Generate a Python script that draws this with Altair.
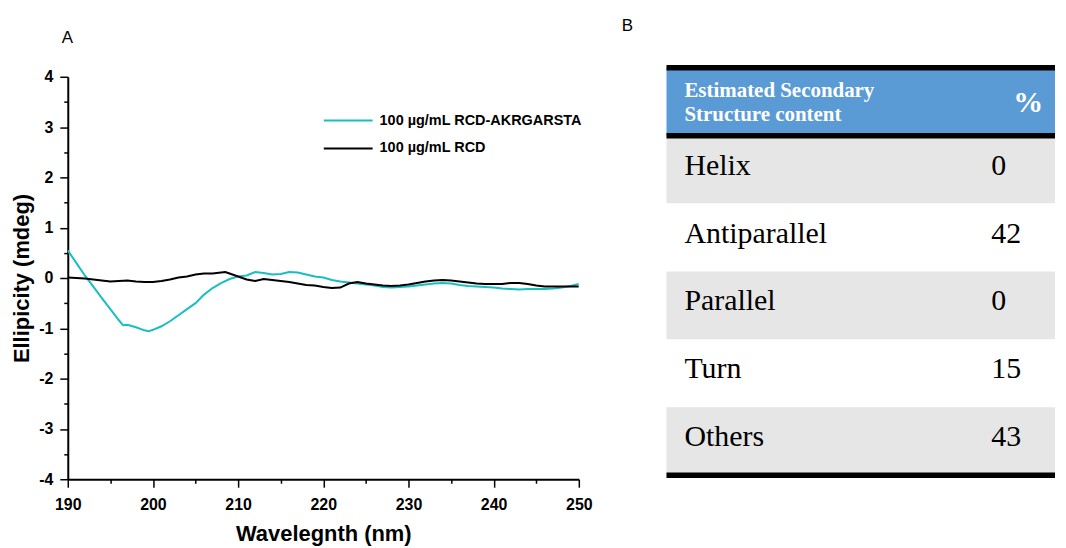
import altair as alt
import pandas as pd

# ---------------- data ----------------
series_names = ["100 µg/mL RCD-AKRGARSTA", "100 µg/mL RCD"]
series_colors = ["#19BFC0", "#000000"]

wl_cyan = [190, 191, 192, 193, 194, 195, 196, 196.5, 197, 198, 199, 199.5, 200, 201, 202, 203, 204, 205,
           206, 207, 208, 209, 210, 211, 212, 213, 214, 215, 216, 217, 218, 219, 220, 221, 222, 223, 224,
           225, 226, 227, 228, 229, 230, 231, 232, 233, 234, 235, 236, 237, 238, 239, 240, 241, 242, 243,
           244, 245, 246, 247, 248, 249, 250]
val_cyan = [0.55, 0.30, 0.05, -0.17, -0.40, -0.62, -0.84, -0.94, -0.93, -0.98, -1.04, -1.06, -1.03, -0.96,
            -0.86, -0.74, -0.62, -0.50, -0.33, -0.20, -0.10, -0.02, 0.03, 0.05, 0.12, 0.10, 0.07, 0.08, 0.12,
            0.11, 0.07, 0.03, 0.01, -0.04, -0.07, -0.09, -0.11, -0.13, -0.15, -0.18, -0.19, -0.18, -0.17,
            -0.15, -0.13, -0.11, -0.10, -0.11, -0.14, -0.16, -0.17, -0.18, -0.19, -0.21, -0.22, -0.23, -0.22,
            -0.22, -0.22, -0.21, -0.19, -0.16, -0.12]

wl_black = [190, 191, 192, 193, 194, 195, 196, 197, 198, 199, 200, 201, 202, 203, 204, 205, 206, 207, 208,
            208.5, 209, 210, 211, 212, 213, 214, 215, 216, 217, 218, 219, 220, 221, 222, 223, 224, 225, 226,
            227, 228, 229, 230, 231, 232, 233, 234, 235, 236, 237, 238, 239, 240, 241, 242, 243, 244, 245,
            246, 247, 248, 249, 250]
val_black = [0.01, 0.00, -0.01, -0.03, -0.05, -0.07, -0.06, -0.05, -0.07, -0.08, -0.08, -0.06, -0.03, 0.01,
             0.03, 0.07, 0.09, 0.09, 0.11, 0.12, 0.09, 0.03, -0.03, -0.06, -0.02, -0.04, -0.06, -0.08, -0.11,
             -0.14, -0.15, -0.18, -0.20, -0.19, -0.11, -0.08, -0.11, -0.13, -0.15, -0.16, -0.15, -0.13, -0.10,
             -0.07, -0.05, -0.04, -0.05, -0.07, -0.09, -0.11, -0.12, -0.12, -0.12, -0.10, -0.10, -0.12, -0.15,
             -0.17, -0.17, -0.17, -0.17, -0.17]

x_ticks = list(range(190, 251, 5))
y_ticks = [-4 + 0.5 * i for i in range(17)]

categories = ["Helix", "Antiparallel", "Parallel", "Turn", "Others"]
percents = [0, 42, 0, 15, 43]
header_left = "Estimated Secondary\nStructure content"
header_right = "%"

# ---------------- tables for the library ----------------
df_lines = pd.concat([
    pd.DataFrame({"wl": wl_cyan, "val": val_cyan, "series": series_names[0]}),
    pd.DataFrame({"wl": wl_black, "val": val_black, "series": series_names[1]}),
], ignore_index=True)

n = len(categories)
df_rows = pd.DataFrame({
    "top": [i + 1 for i in range(n)],
    "bot": [i + 2 for i in range(n)],
    "mid": [i + 1.5 for i in range(n)],
    "name": categories,
    "pct": [str(p) for p in percents],
    "idx": list(range(n)),
})
df_head = pd.DataFrame({"top": [0], "bot": [1], "mid": [0.5], "left": [header_left], "right": [header_right]})
df_borders = pd.DataFrame({"pos": [0, 1, n + 1]})

SANS = "Liberation Sans"
SERIF = "Liberation Serif"

# ---------------- panel A ----------------
panel_a = alt.Chart(df_lines).mark_line(strokeWidth=2, clip=True).encode(
    x=alt.X("wl:Q",
            scale=alt.Scale(domain=[190, 250], nice=False, zero=False),
            axis=alt.Axis(values=x_ticks,
                          labelExpr="datum.value % 10 === 0 ? '' + datum.value : ''",
                          tickSize={"condition": {"test": "datum.value % 10 === 0", "value": 8}, "value": 4},
                          title="Wavelegnth (nm)")),
    y=alt.Y("val:Q",
            scale=alt.Scale(domain=[-4, 4], nice=False, zero=False),
            axis=alt.Axis(values=y_ticks,
                          labelExpr="datum.value % 1 === 0 ? '' + datum.value : ''",
                          tickSize={"condition": {"test": "datum.value % 1 === 0", "value": 8}, "value": 4},
                          title="Ellipicity (mdeg)")),
    color=alt.Color("series:N",
                    scale=alt.Scale(domain=series_names, range=series_colors),
                    legend=alt.Legend(title=None, orient="none", legendX=256, legendY=34,
                                      symbolType="stroke", symbolSize=2401, symbolStrokeWidth=2,
                                      labelFont=SANS, labelFontWeight="bold", labelFontSize=14.5,
                                      labelColor="black", labelOffset=6, clipHeight=20, rowPadding=8,
                                      padding=0, labelLimit=400)),
).properties(
    width=513, height=404,
    title=alt.TitleParams("A", anchor="start", frame="group", font=SANS, fontSize=17,
                          fontWeight="normal", color="black", dx=-6, offset=9, baseline="alphabetic"),
)

# ---------------- panel B (table) ----------------
yscale = alt.Scale(domain=[0, n + 1], range=[-9, 400])
xscale = alt.Scale(domain=[0, 1], range=[18, 326])

head_bg = alt.Chart(df_head).mark_rect(color="#5B9BD5").encode(
    y=alt.Y("top:Q", scale=yscale, axis=None), y2="bot:Q")

row_bg = alt.Chart(df_rows).mark_rect().encode(
    y=alt.Y("top:Q", scale=yscale, axis=None), y2="bot:Q",
    color=alt.condition("datum.idx % 2 === 0", alt.value("#E7E6E6"), alt.value("#FFFFFF")))

borders = alt.Chart(df_borders).mark_rule(color="black", strokeWidth=5.5).encode(
    y=alt.Y("pos:Q", scale=yscale, axis=None))

head_left = alt.Chart(df_head).mark_text(align="left", baseline="middle", font=SERIF, fontSize=21,
                                         fontWeight="bold", color="white", lineBreak="\n",
                                         lineHeight=24.5, dy=-11).encode(
    x=alt.X("datum_x:Q", scale=xscale, axis=None),
    y=alt.Y("mid:Q", scale=yscale, axis=None),
    text="left:N").transform_calculate(datum_x="0")

head_right = alt.Chart(df_head).mark_text(align="left", baseline="middle", font=SERIF, fontSize=30,
                                          fontWeight="bold", color="white", dx=22, dy=1).encode(
    x=alt.X("datum_x:Q", scale=xscale, axis=None),
    y=alt.Y("mid:Q", scale=yscale, axis=None),
    text="right:N").transform_calculate(datum_x="1")

names = alt.Chart(df_rows).mark_text(align="left", baseline="middle", font=SERIF, fontSize=30,
                                     color="black", dy=-4).encode(
    x=alt.X("datum_x:Q", scale=xscale, axis=None),
    y=alt.Y("mid:Q", scale=yscale, axis=None),
    text="name:N").transform_calculate(datum_x="0")

values = alt.Chart(df_rows).mark_text(align="left", baseline="middle", font=SERIF, fontSize=30,
                                      color="black", dy=-4).encode(
    x=alt.X("datum_x:Q", scale=xscale, axis=None),
    y=alt.Y("mid:Q", scale=yscale, axis=None),
    text="pct:N").transform_calculate(datum_x="1")

panel_b = alt.layer(head_bg, row_bg, borders, head_left, head_right, names, values).properties(
    width=390, height=404,
    title=alt.TitleParams("B", anchor="start", frame="group", font=SANS, fontSize=17,
                          fontWeight="normal", color="black", dx=-45, offset=17, baseline="alphabetic"),
)

chart = alt.hconcat(panel_a, panel_b, spacing=88, bounds="flush").properties(
    padding={"left": 2, "top": 8, "right": 0, "bottom": 0},
).configure_view(stroke=None).configure_axis(
    domainColor="black", domainWidth=2, tickColor="black", tickWidth=1.5,
    labelFont=SANS, labelFontWeight="bold", labelFontSize=16, labelColor="black",
    labelFlush=False, labelOverlap=False, grid=False,
    titleFont=SANS, titleFontWeight="bold", titleColor="black",
).configure_axisY(
    titleFontSize=22, labelPadding=7, titlePadding=5,
).configure_axisX(
    titleFontSize=22, labelPadding=9, titlePadding=12,
)

chart.save("out.html", embed_options={"renderer": "svg", "actions": False})
